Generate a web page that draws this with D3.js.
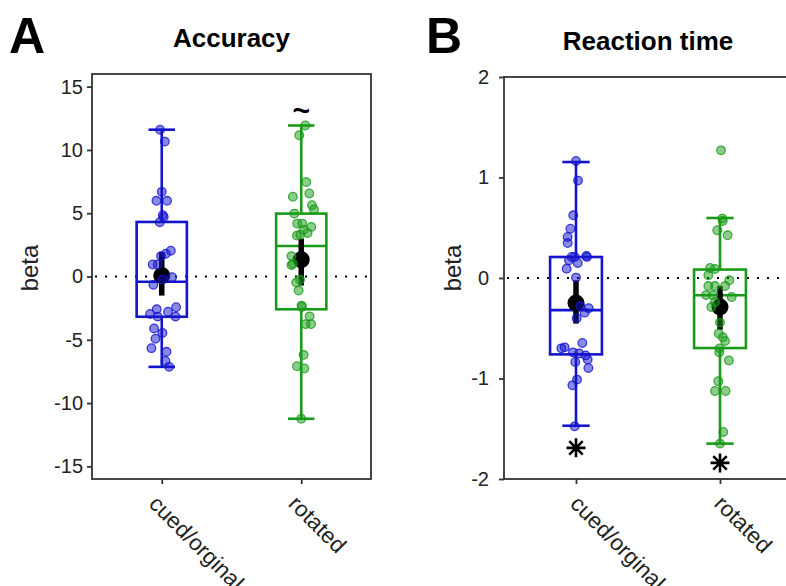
<!DOCTYPE html>
<html>
<head>
<meta charset="utf-8">
<script src="https://cdn.jsdelivr.net/npm/d3@7"></script>
<style>
  body { margin: 0; background: #fff; }
  svg { display: block; font-family: "Liberation Sans", Arial, sans-serif; }
</style>
</head>
<body>
<div class="chart"></div>
<script>
// categories + ticks
const categories = ['cued/orginal', 'rotated'];
const accTicks = [-15, -10, -5, 0, 5, 10, 15];
const rtTicks = [-2, -1, 0, 1, 2];

// accuracy betas per subject, jitter in category units
const accCued = [11.6, 10.66, 6.69, 5.98, 5.98, 4.84, 4.71, 4.29, 2.04, 1.8, 1.61, 0.95, 0.95, -0.05, -0.24,
  -0.66, -2.59, -2.96, -2.78, -2.43, -3.17, -3.17, -4.1, -4.47, -4.92, -5.66, -5.95, -6.67, -7.14];
const accCuedJit = [-0.012, 0.022, 0, -0.038, 0.038, 0.007, 0.014, -0.014, 0.065, 0.029, -0.005, -0.029, -0.065, 0.074, 0.007,
  -0.06, -0.036, -0.084, 0.045, 0.103, -0.029, 0.099, -0.055, 0.005, -0.045, -0.074, 0.034, 0.027, 0.053];
const accRot = [11.93, 11.16, 7.46, 6.3, 6.56, 5.63, 5.29, 4.97, 4.18, 4.18, 3.92, 3.7, 3.44, 3.23, 3.3,
  1.61, 1.0, 0.9, -0.48, -0.26, -1.11, -2.3, -2.4, -3.15, -3.76, -3.76, -6.19, -7.09, -7.27, -11.24];
const accRotJit = [0.029, -0.014, 0.036, -0.06, 0.058, 0.077, 0.091, -0.05, -0.029, 0.007, 0.072, 0.017, 0.045, -0.031, -0.007,
  -0.07, -0.06, -0.07, -0.036, -0.009, -0.019, 0.002, 0.005, 0.06, 0.031, 0.07, 0.017, -0.031, 0.022, 0];

// reaction time betas
const rtCued = [1.164, 0.969, 0.624, 0.49, 0.408, 0.348, 0.209, 0.22, 0.21, 0.21, 0.176, 0.15, 0.093, 0.004, -0.279,
  -0.3, -0.345, -0.4, -0.7, -0.69, -0.647, -0.74, -0.75, -0.77, -0.81, -0.836, -0.895, -1.011, -1.068, -1.476];
const rtCuedJit = [0, 0.014, -0.019, -0.039, -0.058, -0.058, -0.03, 0.072, 0.076, -0.009, -0.049, 0.012, -0.065, 0, 0.03,
  0.088, 0.06, 0.005, -0.102, -0.079, 0.044, -0.021, 0.021, 0.067, 0.081, -0.005, 0.086, 0.007, -0.025, -0.009];
const rtRot = [1.27, 0.591, 0.567, 0.475, 0.425, 0.1, 0.09, 0.027, -0.023, -0.08, -0.08, -0.08, -0.172, -0.17, -0.189,
  -0.239, -0.289, -0.444, -0.553, -0.59, -0.627, -0.7, -0.74, -0.82, -1.028, -1.124, -1.124, -1.532, -1.648];
const rtRotJit = [0.007, 0.016, 0.019, -0.019, 0.053, -0.069, -0.035, -0.081, 0.065, -0.081, -0.035, 0.035, -0.049, -0.097, 0.081,
  -0.035, -0.06, 0, -0.009, 0.019, 0.035, -0.002, -0.005, 0.062, -0.012, -0.035, 0.039, 0.023, 0];

// box stats per category (as drawn)
const accQ1 = [-3.18, -2.59], accMed = [-0.42, 2.41], accQ3 = [4.31, 4.97];
const accLo = [-7.14, -11.24], accHi = [11.6, 11.93];
const accMean = [0.08, 1.32], accCiLo = [-1.51, -0.71], accCiHi = [1.93, 2.99];
const rtQ1 = [-0.76, -0.697], rtMed = [-0.32, -0.172], rtQ3 = [0.209, 0.084];
const rtLo = [-1.47, -1.648], rtHi = [1.154, 0.597];
const rtMean = [-0.249, -0.289], rtCiLo = [-0.454, -0.514], rtCiHi = [-0.023, -0.08];

// significance marks
const accSig = ['', '~'], accSigY = [null, 13.1];
const rtSig = ['*', '*'], rtSigY = [-1.69, -1.84];

const colors = ['rgb(20,20,205)', 'rgb(25,155,25)'];

const svg = d3.select('.chart')
  .append('svg')
  .attr('width', 786)
  .attr('height', 586);

function drawPanel(p) {
  let x = d3.scaleLinear().domain([0.5, 2.5]).range([p.left, p.right]);
  let y = d3.scaleLinear().domain(p.domain).range([479, p.top]);
  let g = svg.append('g');

  // letter + title
  g.append('text')
    .attr('x', p.letterX).attr('y', 53)
    .style('font-size', '50px').style('font-weight', 'bold')
    .text(p.letter);
  g.append('text')
    .attr('x', (p.left + p.titleRight) / 2).attr('y', p.titleY)
    .attr('text-anchor', 'middle')
    .style('font-size', '26px').style('font-weight', 'bold')
    .text(p.title);

  // y axis (plain hyphen minus like the original)
  let yAxis = d3.axisLeft(y).tickValues(p.ticks).tickFormat(d => String(d))
    .tickSize(5).tickPadding(p.pad).tickSizeOuter(0);
  let ya = g.append('g').attr('transform', `translate(${p.left},0)`).call(yAxis);
  ya.select('.domain').remove();
  ya.selectAll('line').attr('stroke', '#333').attr('stroke-width', 1.8);
  ya.selectAll('text').style('font-size', '20px').attr('fill', '#222').attr('font-family', null);

  // x ticks
  let xAxis = d3.axisBottom(x).tickValues([1, 2]).tickSize(5).tickFormat('');
  let xa = g.append('g').attr('transform', 'translate(0,479)').call(xAxis);
  xa.select('.domain').remove();
  xa.selectAll('line').attr('stroke', '#333').attr('stroke-width', 1.8);

  g.selectAll('.xlab')
    .data(categories)
    .enter()
    .append('text')
    .attr('class', 'xlab')
    .attr('transform', (d, i) => `translate(${x(i + 1) + p.labDx},505) rotate(45)`)
    .style('font-size', '22.5px')
    .attr('fill', '#222')
    .text(d => d);

  g.append('text')
    .attr('transform', `translate(${p.ylabX},268) rotate(-90)`)
    .attr('text-anchor', 'middle')
    .style('font-size', '24px')
    .attr('fill', '#222')
    .text('beta');

  // zero line
  g.append('line')
    .attr('x1', p.left + 3).attr('x2', Math.min(p.right, 786))
    .attr('y1', y(0)).attr('y2', y(0))
    .attr('stroke', '#000').attr('stroke-width', 2)
    .attr('stroke-dasharray', '2,8');

  [0, 1].forEach(i => {
    let cx = x(i + 1), c = colors[i];
    let bw = x(1.18) - x(1), cw = x(1.095) - x(1);
    let bg = g.append('g').attr('stroke', c).attr('stroke-width', 2.6).attr('fill', 'none');
    bg.append('line').attr('x1', cx).attr('x2', cx).attr('y1', y(p.hi[i])).attr('y2', y(p.q3[i]));
    bg.append('line').attr('x1', cx).attr('x2', cx).attr('y1', y(p.q1[i])).attr('y2', y(p.lo[i]));
    bg.append('line').attr('x1', cx - cw).attr('x2', cx + cw).attr('y1', y(p.hi[i])).attr('y2', y(p.hi[i]));
    bg.append('line').attr('x1', cx - cw).attr('x2', cx + cw).attr('y1', y(p.lo[i])).attr('y2', y(p.lo[i]));
    bg.append('rect')
      .attr('x', cx - bw).attr('width', 2 * bw)
      .attr('y', y(p.q3[i])).attr('height', y(p.q1[i]) - y(p.q3[i]));
    bg.append('line').attr('x1', cx - bw).attr('x2', cx + bw).attr('y1', y(p.med[i])).attr('y2', y(p.med[i]));

    // mean + CI
    g.append('line')
      .attr('x1', cx).attr('x2', cx)
      .attr('y1', y(p.ciHi[i])).attr('y2', y(p.ciLo[i]))
      .attr('stroke', '#000').attr('stroke-width', 5.5);
    g.append('circle')
      .attr('cx', cx).attr('cy', y(p.mean[i])).attr('r', 8.5)
      .attr('fill', '#000');

    // subjects
    let pts = p.vals[i].map((v, k) => ({v: v, j: p.jit[i][k]}));
    g.selectAll('.pt' + i)
      .data(pts)
      .enter()
      .append('circle')
      .attr('cx', d => x(i + 1 + d.j))
      .attr('cy', d => y(d.v))
      .attr('r', 4.3)
      .attr('fill', c).attr('fill-opacity', 0.5)
      .attr('stroke', c).attr('stroke-opacity', 0.8).attr('stroke-width', 1.3);

    // significance
    if (p.sig[i] === '*') {
      let sy = y(p.sigY[i]), r = 9.5;
      let path = d3.path();
      [0, 45, 90, 135].forEach(a => {
        let dx = r * Math.cos(a * Math.PI / 180), dy = r * Math.sin(a * Math.PI / 180);
        path.moveTo(cx - dx, sy - dy);
        path.lineTo(cx + dx, sy + dy);
      });
      g.append('path').attr('d', path.toString()).attr('stroke', '#000').attr('stroke-width', 2.6);
    } else if (p.sig[i]) {
      g.append('text')
        .attr('x', cx).attr('y', y(p.sigY[i]))
        .attr('text-anchor', 'middle').attr('dominant-baseline', 'central')
        .style('font-size', '30px').style('font-weight', 'bold')
        .text(p.sig[i]);
    }
  });

  // frame
  g.append('rect')
    .attr('x', p.left).attr('y', p.top)
    .attr('width', p.right - p.left).attr('height', 479 - p.top)
    .attr('fill', 'none').attr('stroke', '#333').attr('stroke-width', 1.8);
}

drawPanel({
  letter: 'A', letterX: 9, title: 'Accuracy', titleY: 47, titleRight: 371,
  left: 92, right: 371, top: 74, domain: [-16, 16], ticks: accTicks, pad: 4,
  labDx: -14, ylabX: 38,
  vals: [accCued, accRot], jit: [accCuedJit, accRotJit],
  q1: accQ1, med: accMed, q3: accQ3, lo: accLo, hi: accHi,
  mean: accMean, ciLo: accCiLo, ciHi: accCiHi, sig: accSig, sigY: accSigY
});

drawPanel({
  letter: 'B', letterX: 426, title: 'Reaction time', titleY: 50, titleRight: 792,
  left: 504, right: 792, top: 77, domain: [-2, 2], ticks: rtTicks, pad: 10,
  labDx: -7, ylabX: 461,
  vals: [rtCued, rtRot], jit: [rtCuedJit, rtRotJit],
  q1: rtQ1, med: rtMed, q3: rtQ3, lo: rtLo, hi: rtHi,
  mean: rtMean, ciLo: rtCiLo, ciHi: rtCiHi, sig: rtSig, sigY: rtSigY
});
</script>
</body>
</html>
